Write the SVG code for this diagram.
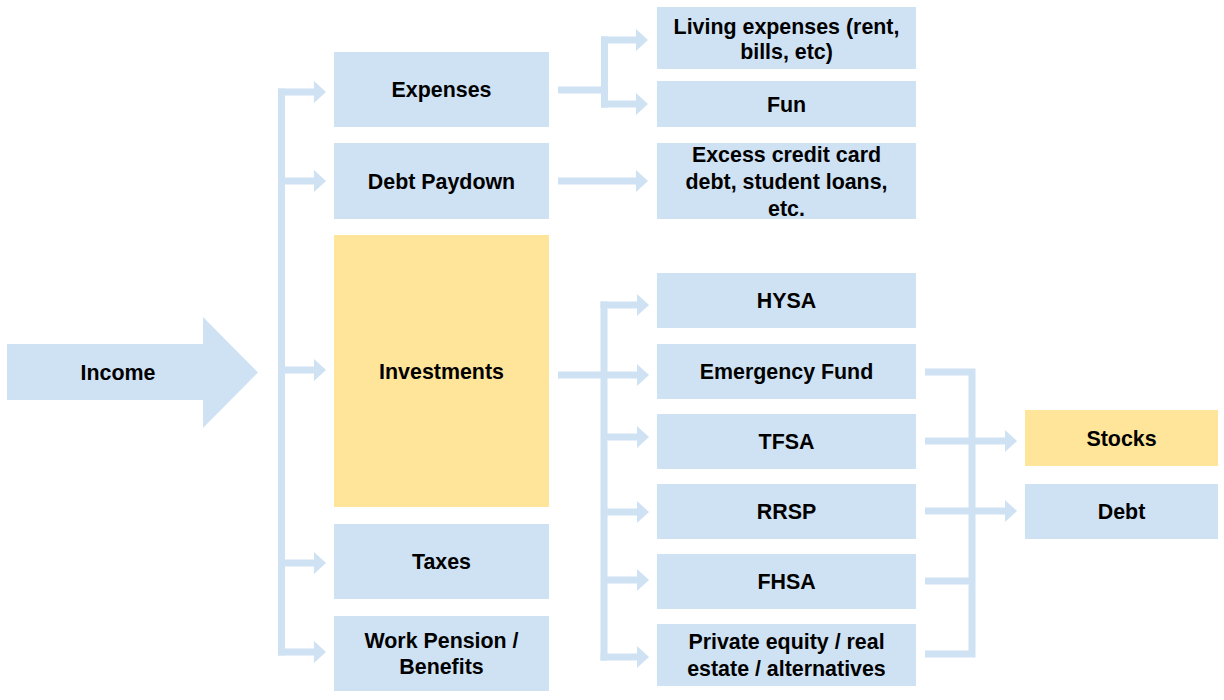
<svg xmlns="http://www.w3.org/2000/svg" width="1224" height="700" viewBox="0 0 1224 700">
<style>
.b{fill:#cfe2f3}
.y{fill:#ffe599}
text{font-family:"Liberation Sans",Arial,sans-serif;font-weight:bold;font-size:21.4px;fill:#000;text-anchor:middle;dominant-baseline:central}
.c{stroke:#cfe2f3;stroke-width:7;fill:none}
.a{stroke:#cfe2f3;stroke-width:7;fill:none;marker-end:url(#ah)}
</style>
<defs>
<marker id="ah" markerUnits="userSpaceOnUse" viewBox="0 -11 12 22" refX="0" refY="0" markerWidth="12" markerHeight="22" orient="auto">
<path d="M0,-11 L12,0 L0,11 Z" fill="#cfe2f3"/>
</marker>
</defs>
<rect width="1224" height="700" fill="#fff"/>
<g id="connectors">
<path class="c" d="M281.5,88.5 V655.5"/>
<line class="a" x1="278" y1="92" x2="314" y2="92"/>
<line class="a" x1="281.5" y1="181" x2="314" y2="181"/>
<line class="a" x1="281.5" y1="370" x2="314" y2="370"/>
<line class="a" x1="281.5" y1="563" x2="314" y2="563"/>
<line class="a" x1="278" y1="652" x2="314" y2="652"/>
<line class="c" x1="558" y1="90" x2="604" y2="90"/>
<path class="c" d="M604.5,36.5 V107.5"/>
<line class="a" x1="601" y1="40" x2="636" y2="40"/>
<line class="a" x1="601" y1="104" x2="636" y2="104"/>
<line class="a" x1="558" y1="181" x2="636" y2="181"/>
<line class="a" x1="558" y1="375" x2="637" y2="375"/>
<path class="c" d="M604,301.5 V660.5"/>
<line class="a" x1="600.5" y1="305" x2="637" y2="305"/>
<line class="a" x1="604" y1="437" x2="637" y2="437"/>
<line class="a" x1="604" y1="512" x2="637" y2="512"/>
<line class="a" x1="604" y1="580" x2="637" y2="580"/>
<line class="a" x1="600.5" y1="657" x2="637" y2="657"/>
<path class="c" d="M925,372 H972 V654 H925"/>
<line class="c" x1="925" y1="441" x2="972" y2="441"/>
<line class="c" x1="925" y1="511" x2="972" y2="511"/>
<line class="c" x1="925" y1="581" x2="972" y2="581"/>
<line class="a" x1="972" y1="441" x2="1005" y2="441"/>
<line class="a" x1="972" y1="511" x2="1005" y2="511"/>
</g>
<g id="income"><path class="b" d="M7,344 H203 V317 L258,372.5 L203,428 V400 H7 Z"/><text x="118" y="373">Income</text></g>
<g id="expenses"><rect class="b" x="334" y="52" width="215" height="75"/><text x="441.5" y="90">Expenses</text></g>
<g id="debt-paydown"><rect class="b" x="334" y="143" width="215" height="76"/><text x="441.5" y="182">Debt Paydown</text></g>
<g id="investments"><rect class="y" x="334" y="235" width="215" height="272"/><text x="441.5" y="372">Investments</text></g>
<g id="taxes"><rect class="b" x="334" y="524" width="215" height="75"/><text x="441.5" y="562">Taxes</text></g>
<g id="work-pension"><rect class="b" x="334" y="616" width="215" height="75"/><text x="441.5" y="641">Work Pension /</text><text x="441.5" y="667">Benefits</text></g>
<g id="living-expenses"><rect class="b" x="657" y="7" width="259" height="62"/><text x="786.5" y="27">Living expenses (rent,</text><text x="786.5" y="52">bills, etc)</text></g>
<g id="fun"><rect class="b" x="657" y="81" width="259" height="46"/><text x="786.5" y="105">Fun</text></g>
<g id="excess-debt"><rect class="b" x="657" y="143" width="259" height="76"/><text x="786.5" y="155">Excess credit card</text><text x="786.5" y="182">debt, student loans,</text><text x="786.5" y="209">etc.</text></g>
<g id="hysa"><rect class="b" x="657" y="273" width="259" height="55"/><text x="786.5" y="301">HYSA</text></g>
<g id="emergency-fund"><rect class="b" x="657" y="344" width="259" height="55"/><text x="786.5" y="372">Emergency Fund</text></g>
<g id="tfsa"><rect class="b" x="657" y="414" width="259" height="55"/><text x="786.5" y="442">TFSA</text></g>
<g id="rrsp"><rect class="b" x="657" y="484" width="259" height="55"/><text x="786.5" y="512">RRSP</text></g>
<g id="fhsa"><rect class="b" x="657" y="554" width="259" height="55"/><text x="786.5" y="582">FHSA</text></g>
<g id="private-equity"><rect class="b" x="657" y="624" width="259" height="62"/><text x="786.5" y="642">Private equity / real</text><text x="786.5" y="669">estate / alternatives</text></g>
<g id="stocks"><rect class="y" x="1025" y="410" width="193" height="56"/><text x="1121.5" y="439">Stocks</text></g>
<g id="debt"><rect class="b" x="1025" y="484" width="193" height="55"/><text x="1121.5" y="512">Debt</text></g>
</svg>
